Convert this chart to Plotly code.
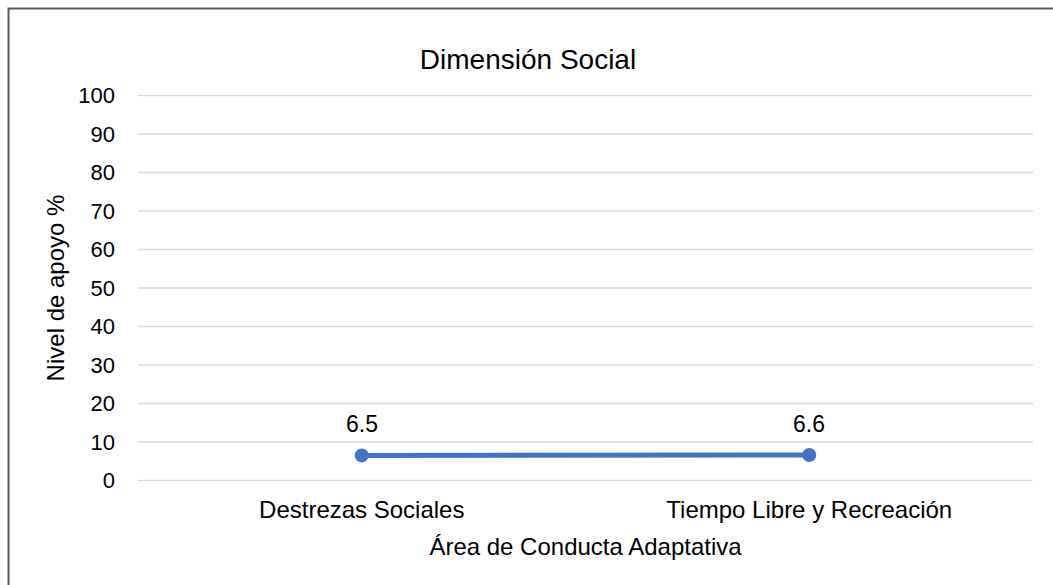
import plotly.graph_objects as go

# Support level by adaptive-behaviour area (social dimension)
areas = ["Destrezas Sociales", "Tiempo Libre y Recreación"]
nivel_apoyo = [6.5, 6.6]
y_ticks = [0, 10, 20, 30, 40, 50, 60, 70, 80, 90, 100]

FONT = "Liberation Sans, Arial, sans-serif"
BLUE = "#4472C4"
GRID = "#D9D9D9"

L, R, T, B = 138, 20, 95, 104
W, H = 1053, 585
pw, ph = W - L - R, H - T - B

fig = go.Figure()

# horizontal gridlines at every tick, including the 0 and 100 edges
for t in y_ticks:
    fig.add_shape(type="line", xref="paper", yref="y",
                  x0=0, x1=1, y0=t, y1=t,
                  line=dict(color=GRID, width=1.5), layer="below")

fig.add_trace(go.Scatter(
    x=areas,
    y=nivel_apoyo,
    mode="lines+markers",
    line=dict(color=BLUE, width=5),
    marker=dict(color=BLUE, size=14),
    cliponaxis=False,
    hoverinfo="x+y",
    showlegend=False,
))

# value labels above each point
for a, v in zip(areas, nivel_apoyo):
    fig.add_annotation(x=a, y=v, text=f"{v:.1f}", showarrow=False,
                       yanchor="bottom", yshift=16,
                       font=dict(family=FONT, size=23, color="#000000"))

# outer frame of the chart area
def px_x(p):
    return (p - L) / pw

def px_y(p):
    return (H - B - p) / ph

fig.add_shape(type="rect", xref="paper", yref="paper",
              x0=px_x(8.5), x1=px_x(1070), y0=px_y(620), y1=px_y(8.5),
              line=dict(color="#595959", width=2), fillcolor="rgba(0,0,0,0)",
              layer="below")

fig.update_layout(
    width=W, height=H,
    margin=dict(l=L, r=R, t=T, b=B),
    paper_bgcolor="white", plot_bgcolor="white",
    font=dict(family=FONT, color="#000000"),
    title=dict(text="Dimensión Social", x=528 / W, xanchor="center",
               y=1 - 59 / H, yanchor="middle",
               font=dict(family=FONT, size=28, color="#000000")),
    xaxis=dict(
        range=[-0.5, 1.5],
        showgrid=False, zeroline=False, showline=False,
        ticks="", ticklabelstandoff=12,
        tickfont=dict(family=FONT, size=24, color="#000000"),
        title=dict(text="Área de Conducta Adaptativa", standoff=16,
                   font=dict(family=FONT, size=24, color="#000000")),
    ),
    yaxis=dict(
        range=[-0.15, 100.15],
        tickvals=y_ticks,
        showgrid=False, zeroline=False, showline=False,
        ticks="", ticklabelstandoff=22,
        tickfont=dict(family=FONT, size=22, color="#000000"),
        title=dict(text="Nivel de apoyo %", standoff=6,
                   font=dict(family=FONT, size=24, color="#000000")),
    ),
)

fig.write_html("out.html")
